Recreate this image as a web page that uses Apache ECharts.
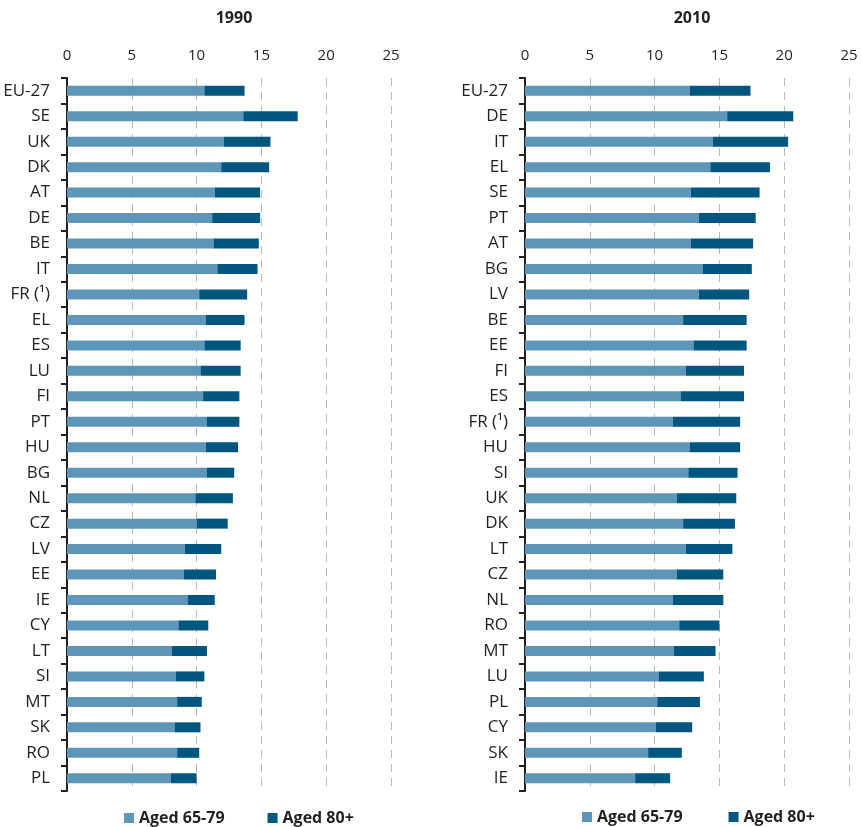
<!DOCTYPE html>
<html>
<head>
<meta charset="utf-8">
<script src="https://cdn.jsdelivr.net/npm/echarts@6/dist/echarts.min.js"></script>
<style>html,body{margin:0;padding:0;background:#fff}#c{width:862px;height:827px}</style>
</head>
<body>
<div id="c"></div>
<script>
// 1990
const cats1990 = ['EU-27','SE','UK','DK','AT','DE','BE','IT','FR (¹)','EL','ES','LU','FI','PT','HU','BG','NL','CZ','LV','EE','IE','CY','LT','SI','MT','SK','RO','PL'];
const a6579_1990 = [10.6,13.6,12.1,11.9,11.4,11.2,11.3,11.6,10.2,10.7,10.6,10.3,10.5,10.8,10.7,10.8,9.9,10.0,9.1,9.0,9.3,8.6,8.1,8.4,8.5,8.3,8.5,8.0];
const a80_1990   = [3.1,4.2,3.6,3.7,3.5,3.7,3.5,3.1,3.7,3.0,2.8,3.1,2.8,2.5,2.5,2.1,2.9,2.4,2.8,2.5,2.1,2.3,2.7,2.2,1.9,2.0,1.7,2.0];
// 2010
const cats2010 = ['EU-27','DE','IT','EL','SE','PT','AT','BG','LV','BE','EE','FI','ES','FR (¹)','HU','SI','UK','DK','LT','CZ','NL','RO','MT','LU','PL','CY','SK','IE'];
const a6579_2010 = [12.7,15.6,14.5,14.3,12.8,13.4,12.8,13.7,13.4,12.2,13.0,12.4,12.0,11.4,12.7,12.6,11.7,12.2,12.4,11.7,11.4,11.9,11.5,10.3,10.2,10.1,9.5,8.5];
const a80_2010   = [4.7,5.1,5.8,4.6,5.3,4.4,4.8,3.8,3.9,4.9,4.1,4.5,4.9,5.2,3.9,3.8,4.6,4.0,3.6,3.6,3.9,3.1,3.2,3.5,3.3,2.8,2.6,2.7];
const titles = ['1990','2010'];
const xTicks = [0,5,10,15,20,25];
const seriesNames = ['Aged 65-79','Aged 80+'];

const TXT = '#231f20';
const LIGHT = '#5e96b9';
const DARK = '#00567f';
const FONT = 'Open Sans';

function xAxis(i){
  return {gridIndex:i, type:'value', position:'top', min:xTicks[0], max:xTicks[xTicks.length-1], interval:5,
    axisLine:{show:false}, axisTick:{show:false},
    axisLabel:{color:TXT, fontFamily:FONT, fontSize:15, margin:15},
    splitLine:{show:true, lineStyle:{color:'#b8b8b8', type:[8,6], width:1}}};
}
function yAxis(i, cats){
  return {gridIndex:i, type:'category', data:cats, inverse:true,
    axisLine:{show:true, lineStyle:{color:TXT, width:2}},
    axisTick:{show:true, inside:false, length:6, interval:0, lineStyle:{color:TXT, width:2}},
    axisLabel:{color:TXT, fontFamily:FONT, fontSize:17, margin:17, interval:0}};
}
const chart = echarts.init(document.getElementById('c'), null, {renderer:'canvas'});
chart.setOption({
  animation:false,
  textStyle:{fontFamily:FONT},
  title:[
    {text:titles[0], left:229, top:5, textAlign:'center', textStyle:{fontFamily:FONT, fontWeight:'bold', fontSize:16, color:TXT}},
    {text:titles[1], left:687, top:5, textAlign:'center', textStyle:{fontFamily:FONT, fontWeight:'bold', fontSize:16, color:TXT}}
  ],
  grid:[
    {left:67, top:78, width:324, height:713},
    {left:525, top:78, width:324, height:713}
  ],
  xAxis:[xAxis(0), xAxis(1)],
  yAxis:[yAxis(0, cats1990), yAxis(1, cats2010)],
  legend:[
    {left:119, top:805, itemWidth:10, itemHeight:10, itemGap:43, icon:'rect', data:seriesNames,
      textStyle:{fontFamily:FONT, fontWeight:'bold', fontSize:16, color:TXT}},
    {left:577, top:804, itemWidth:10, itemHeight:10, itemGap:46, icon:'rect', data:seriesNames,
      textStyle:{fontFamily:FONT, fontWeight:'bold', fontSize:16, color:TXT}}
  ],
  series:[
    {name:seriesNames[0], type:'bar', stack:'a', xAxisIndex:0, yAxisIndex:0, data:a6579_1990, barWidth:10, itemStyle:{color:LIGHT}},
    {name:seriesNames[1], type:'bar', stack:'a', xAxisIndex:0, yAxisIndex:0, data:a80_1990, barWidth:10, itemStyle:{color:DARK}},
    {name:seriesNames[0], type:'bar', stack:'b', xAxisIndex:1, yAxisIndex:1, data:a6579_2010, barWidth:10, itemStyle:{color:LIGHT}},
    {name:seriesNames[1], type:'bar', stack:'b', xAxisIndex:1, yAxisIndex:1, data:a80_2010, barWidth:10, itemStyle:{color:DARK}}
  ]
});
</script>
</body>
</html>
